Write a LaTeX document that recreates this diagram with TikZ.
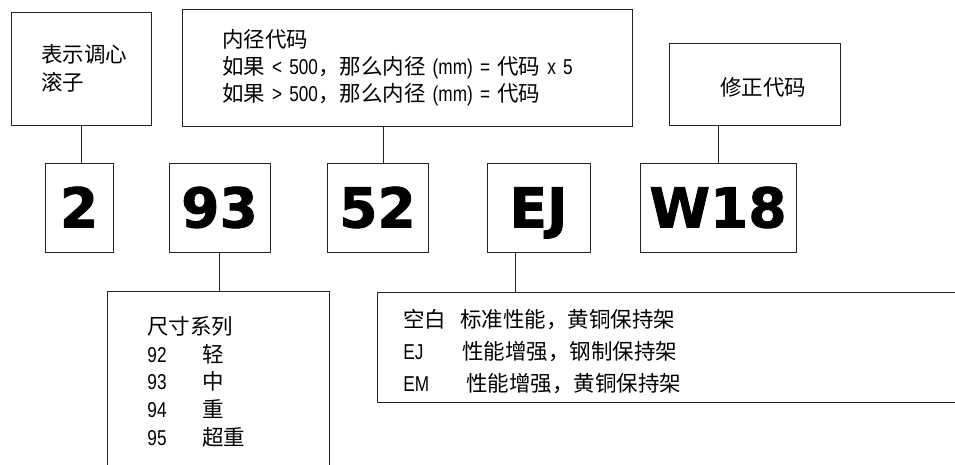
\documentclass[tikz,border=0pt]{standalone}
\usepackage{fontspec}
\setmainfont{Noto Sans CJK SC}
\newfontfamily\codefont{DejaVu Sans}[BoldFeatures={FakeBold=1.5}]
\newfontfamily\narrowfont{Liberation Sans}[FakeStretch=0.8]
\newcommand\lat[1]{{\narrowfont #1}}
\usepackage{tikz}
\definecolor{linegray}{RGB}{35,35,35}
\tikzset{
  box/.style={rectangle, draw=linegray, line width=0.9pt},
  codebox/.style={box, minimum height=89pt, inner sep=0pt, font=\codefont\bfseries\fontsize{55}{55}\selectfont, text height=40pt, text depth=0pt},
  notebox/.style={box, align=left, font=\fontsize{21.5}{27.7}\selectfont},
  link/.style={draw=linegray, line width=0.9pt}
}

\begin{document}
\begin{tikzpicture}[x=1pt, y=-1pt]
  \path[use as bounding box, clip] (0,0) rectangle (955,465);

  % Upper notes
  \node[notebox, text width=80pt, inner xsep=30pt, minimum height=113pt, font=\fontsize{21.5}{28}\selectfont] (rollerbox) at (81,68.5) {表示调心\\滚子};
  \node[notebox, text width=370pt, inner xsep=40pt, minimum height=117pt, font=\fontsize{21.5}{27}\selectfont] (borebox) at (407,67.5)
    {内径代码\\如果\lat{ < 500}，那么内径\lat{ (mm) = }代码\lat{ x 5}\\如果\lat{ > 500}，那么内径\lat{ (mm) = }代码};
  \node[notebox, text width=69pt, inner xsep=51pt, minimum height=82pt, text height=24pt, text depth=0pt] (fixbox) at (754.5,84) {修正代码};

  % Code boxes
  \node[codebox, minimum width=68pt] (n2) at (79,207.5) {2};
  \node[codebox, minimum width=101pt] (n93) at (219.5,207.5) {93};
  \node[codebox, minimum width=101pt] (n52) at (377.5,207.5) {52};
  \node[codebox, minimum width=103pt] (nej) at (538.5,207.5) {EJ};
  \node[codebox, minimum width=156pt] (nw18) at (718,207.5) {W18};

  % Lower notes
  \node[notebox, anchor=north west, text width=142pt, inner xsep=40pt, inner ysep=25pt] (sizebox) at (107,291)
    {尺寸系列\\\makebox[55pt][l]{\lat{92}}轻\\\makebox[55pt][l]{\lat{93}}中\\\makebox[55pt][l]{\lat{94}}重\\\makebox[55pt][l]{\lat{95}}超重};
  \node[notebox, anchor=north west, text width=568pt, inner xsep=26pt, minimum height=110pt, text depth=59pt, font=\fontsize{21.5}{32}\selectfont] (cagebox) at (377,292)
    {\makebox[57pt][l]{空白}标准性能，黄铜保持架\\\makebox[59pt][l]{\lat{EJ}}性能增强，钢制保持架\\\makebox[63pt][l]{\lat{EM}}性能增强，黄铜保持架};

  % Links
  \draw[link] (rollerbox.south) -- (rollerbox.south |- n2.north);
  \draw[link] ([xshift=5.5pt]n52.north) -- ([xshift=5.5pt]n52.north |- borebox.south);
  \draw[link] (nw18.north) -- (nw18.north |- fixbox.south);
  \draw[link] (n93.south) -- (n93.south |- sizebox.north);
  \draw[link] ([xshift=-23.5pt]nej.south) -- ([xshift=-23.5pt]nej.south |- cagebox.north);
\end{tikzpicture}
\end{document}
